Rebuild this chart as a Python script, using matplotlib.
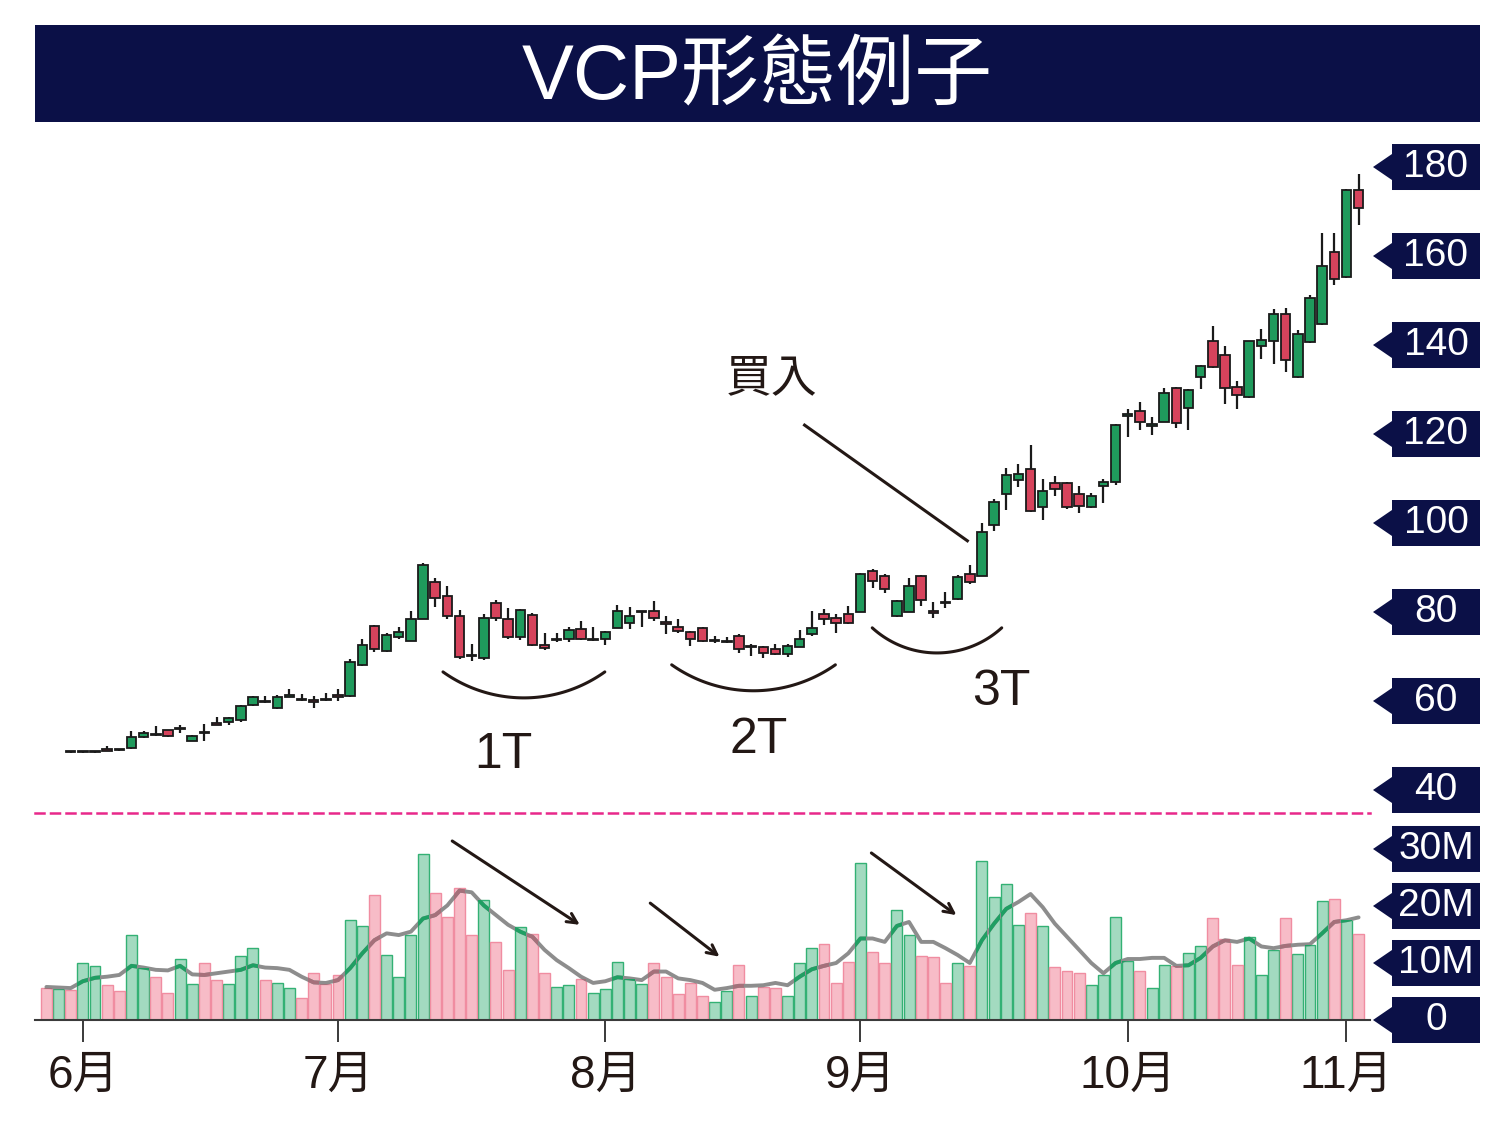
import numpy as np
import matplotlib
matplotlib.use('Agg')
import matplotlib.pyplot as plt
from matplotlib.patches import Rectangle, Polygon
from matplotlib.path import Path

plt.rcParams['font.family'] = ['Liberation Sans', 'Noto Sans CJK TC', 'DejaVu Sans']

W, H = 1500, 1138
NAVY = '#0b1047'
INK = '#231815'
nan = np.nan

# ---- 日K數據 ----
opens = [nan, nan, 48.6, 48.5, 48.5, 49.0, 49.2, 49.4, 51.9, 52.5,
         53.4, 53.6, 51.1, 53.0, 54.8, 55.2, 55.8, 59.0, 59.9, 58.4,
         61.0, 60.4, 60.3, 60.4, 61.3, 61.2, 68.2, 76.8, 71.2, 74.3,
         73.5, 78.4, 86.8, 83.5, 79.0, 70.3, 69.7, 82.1, 78.5, 74.4,
         79.3, 72.6, 73.6, 73.9, 76.2, 73.6, 74.0, 76.5, 77.6, 79.9,
         80.2, 77.7, 76.6, 75.5, 76.5, 73.4, 73.2, 74.6, 72.1, 72.2,
         71.6, 70.5, 72.2, 75.0, 79.5, 78.7, 79.5, 80.0, 89.3, 88.2,
         79.1, 80.0, 88.0, 80.1, 82.3, 82.9, 88.6, 88.1, 99.5, 106.6,
         109.6, 112.1, 103.6, 109.1, 108.9, 106.6, 103.6, 108.4, 109.2, 124.0,
         125.2, 121.9, 122.8, 130.3, 125.8, 132.7, 141.0, 137.7, 130.5, 128.4,
         139.7, 140.9, 147.0, 132.7, 140.7, 144.8, 160.8, 155.3, 174.8]
highs = [nan, nan, 48.7, 48.7, 48.7, 49.9, 49.3, 53.2, 53.2, 54.3,
         53.5, 54.7, 52.4, 54.9, 56.3, 56.3, 59.2, 61.2, 61.2, 61.4,
         62.8, 61.5, 61.1, 61.7, 62.6, 69.4, 73.9, 77.0, 75.3, 76.6,
         80.3, 91.1, 87.6, 85.8, 80.5, 72.7, 79.5, 82.6, 81.0, 80.6,
         79.8, 75.2, 75.3, 76.6, 77.9, 76.6, 75.8, 81.6, 81.1, 80.3,
         82.4, 79.1, 78.4, 75.7, 76.7, 74.5, 74.3, 75.0, 72.7, 72.3,
         72.7, 72.7, 76.0, 80.2, 80.6, 79.5, 81.4, 88.8, 89.6, 88.5,
         82.6, 87.7, 88.3, 82.2, 84.4, 88.4, 90.6, 100.0, 105.3, 112.4,
         113.2, 117.5, 109.8, 110.6, 109.2, 108.4, 106.7, 109.8, 122.3, 125.6,
         127.3, 123.9, 130.3, 130.6, 130.1, 135.4, 144.2, 139.8, 132.0, 141.0,
         143.6, 148.1, 148.3, 143.3, 151.3, 165.2, 165.2, 175.0, 178.4]
lows = [nan, nan, 48.4, 48.4, 48.4, 48.8, 48.8, 49.2, 51.6, 52.2,
        52.0, 52.9, 51.0, 50.9, 54.5, 54.7, 55.2, 58.9, 59.6, 58.1,
        60.9, 60.1, 58.5, 60.0, 60.0, 61.0, 67.9, 70.9, 70.9, 73.9,
        73.5, 78.4, 81.2, 78.4, 69.5, 69.1, 69.3, 78.0, 74.0, 73.6,
        72.3, 71.5, 73.2, 73.2, 73.7, 73.5, 72.6, 76.3, 76.1, 76.6,
        78.0, 75.0, 75.2, 72.4, 73.3, 73.0, 73.0, 70.7, 70.1, 69.7,
        70.4, 69.9, 72.1, 74.7, 77.0, 75.2, 77.4, 80.0, 85.3, 84.3,
        78.8, 80.0, 81.4, 78.7, 81.0, 82.6, 86.3, 88.1, 98.1, 102.9,
        108.0, 102.4, 100.6, 106.0, 103.2, 102.2, 103.4, 104.4, 108.5, 119.4,
        120.9, 119.7, 122.8, 121.4, 120.9, 130.1, 134.8, 126.8, 125.6, 128.2,
        136.9, 135.8, 133.9, 132.5, 140.5, 144.6, 153.5, 155.0, 167.0]
closes = [nan, nan, 48.5, 48.6, 48.6, 48.8, 48.9, 52.0, 52.8, 52.3,
          52.2, 53.9, 52.2, 52.7, 54.6, 56.1, 58.8, 61.0, 59.7, 61.0,
          61.2, 60.2, 59.7, 60.2, 60.9, 68.7, 72.5, 71.6, 74.8, 75.4,
          78.4, 90.6, 83.1, 79.0, 69.9, 70.0, 78.7, 78.7, 74.4, 80.4,
          72.5, 71.9, 73.8, 76.0, 73.9, 73.9, 75.5, 80.2, 79.2, 80.2,
          78.7, 77.4, 75.7, 73.9, 73.5, 73.6, 73.4, 71.6, 72.4, 70.7,
          70.5, 72.3, 73.9, 76.5, 78.4, 77.6, 77.6, 88.5, 87.0, 85.2,
          82.5, 85.9, 82.8, 79.8, 82.0, 87.8, 86.7, 98.0, 104.7, 110.7,
          111.1, 102.6, 107.3, 107.7, 103.6, 103.8, 106.1, 109.2, 122.0, 124.5,
          122.8, 122.2, 129.2, 122.4, 129.9, 135.2, 135.0, 130.3, 128.8, 140.8,
          141.2, 146.9, 136.7, 142.5, 150.5, 157.8, 154.8, 174.8, 170.9]

# 成交量 (百萬股) 與升跌
volume = [5.6, 5.4, 5.3, 10.0, 9.4, 6.1, 5.1, 14.9, 9.1, 7.6,
          4.8, 10.7, 6.3, 10.0, 7.0, 6.3, 11.2, 12.7, 7.0, 6.5,
          5.6, 3.9, 8.3, 6.3, 7.9, 17.5, 16.5, 21.9, 11.4, 7.6,
          14.9, 29.1, 22.2, 18.1, 23.1, 14.9, 21.0, 13.6, 8.8, 16.3,
          15.1, 8.2, 5.8, 6.1, 7.2, 4.8, 5.4, 10.2, 7.2, 6.3,
          10.0, 7.6, 4.5, 6.5, 4.2, 3.2, 5.0, 9.6, 4.2, 5.8,
          5.6, 4.2, 10.0, 12.7, 13.3, 6.5, 10.2, 27.5, 12.0, 10.0,
          19.3, 14.9, 11.2, 11.0, 6.5, 10.0, 9.4, 27.9, 21.6, 23.9,
          16.7, 18.7, 16.5, 9.3, 8.6, 8.3, 6.1, 7.9, 18.0, 10.4,
          8.6, 5.6, 9.6, 9.4, 11.8, 12.9, 17.9, 14.2, 9.6, 14.6,
          7.9, 12.3, 17.9, 11.6, 13.2, 20.9, 21.2, 17.5, 15.0]
vol_ma = [5.8, 5.7, 5.6, 6.8, 7.4, 7.6, 7.9, 9.5, 9.2, 8.8,
          8.7, 9.5, 8.0, 7.9, 8.2, 8.5, 8.8, 9.6, 9.2, 9.1,
          8.8, 7.6, 6.6, 6.5, 7.0, 9.1, 11.7, 14.0, 15.2, 14.9,
          15.5, 17.8, 18.4, 20.1, 22.7, 22.4, 20.1, 18.4, 16.7, 15.5,
          14.6, 12.3, 10.5, 9.1, 7.6, 6.5, 6.8, 7.5, 7.3, 7.0,
          8.5, 8.5, 7.3, 7.0, 6.5, 5.3, 5.6, 6.0, 6.0, 6.1,
          6.5, 6.1, 7.6, 8.9, 9.5, 10.0, 11.7, 14.3, 14.3, 13.7,
          16.5, 17.2, 13.7, 13.7, 12.6, 11.4, 10.0, 14.0, 16.9, 19.5,
          20.7, 22.1, 19.8, 16.9, 14.6, 12.3, 10.0, 8.2, 10.0, 10.7,
          10.7, 10.9, 10.9, 9.5, 9.6, 10.9, 12.9, 14.0, 13.7, 14.3,
          12.9, 12.6, 13.0, 13.2, 13.3, 15.2, 17.2, 17.5, 18.0]
up_day = 'PGPGGPPGGPPGGPPGGGPGGPPPPGGPGGGGPPPPGPPGPPGGPGGGGGPPPPPGGPGPPGGGPPPGPPGGPPPGPGGGGPGPPPGGGGPGGPGGPPPGGGPGGGPGP'

month_idx = [3, 24, 46, 67, 89, 107]
month_labels = ['6月', '7月', '8月', '9月', '10月', '11月']
price_ticks = [180, 160, 140, 120, 100, 80, 60, 40]
vol_ticks = [30, 20, 10, 0]
vol_tick_labels = ['30M', '20M', '10M', '0']

# 標註
notes = [('買入', 59.7, 132.4), ('1T', 37.6, 47.9), ('2T', 58.6, 51.2), ('3T', 78.6, 62.0)]
buy_line = ([62.4, 75.8], [122.0, 96.0])
arcs = [(39.3, 60.7, 139, 35.6), (58.2, 62.3, 142, 35.2), (73.3, 70.8, 96, 42.4)]
vol_arrows = [((33.4, 31.4), (43.9, 16.7)), ((49.7, 20.5), (55.4, 11.1)), ((67.9, 29.3), (74.9, 18.4))]


def fx(px):
    return px / W


def fy(py):
    return 1 - py / H


o = np.array(opens)
h = np.array(highs)
l = np.array(lows)
c = np.array(closes)
vol = np.array(volume)
up = np.array([ch == 'G' for ch in up_day])
x = np.arange(len(vol))

fig = plt.figure(figsize=(W / 100, H / 100), dpi=100)
fig.patch.set_facecolor('white')

# 標題
fig.add_artist(Rectangle((fx(35), fy(122)), fx(1480) - fx(35), (122 - 25) / H,
                         transform=fig.transFigure, color=NAVY, lw=0))
fig.text(fx(757), fy(79), 'VCP形態例子', color='white', fontsize=56,
         ha='center', va='center')

ax_p = fig.add_axes([fx(35), fy(813), fx(1370) - fx(35), (813 - 140) / H])
ax_v = fig.add_axes([fx(35), fy(1020), fx(1370) - fx(35), (1020 - 830) / H], sharex=ax_p)
ax_p.set_xlim(-0.94, 108.94)
ax_p.set_ylim(34.83, 186.07)
ax_v.set_ylim(0, 33.33)

for ax in (ax_p, ax_v):
    ax.set_facecolor('none')
    for s in ax.spines.values():
        s.set_visible(False)
    ax.set_yticks([])

# 價格圖下方虛線
ax_p.spines['bottom'].set_visible(True)
ax_p.spines['bottom'].set_color('#e8288a')
ax_p.spines['bottom'].set_linewidth(1.8)
ax_p.spines['bottom'].set_linestyle((0, (3.6, 2.6)))
ax_p.tick_params(bottom=False, labelbottom=False)

# 蠟燭
ok = ~np.isnan(o)
body_lo = np.minimum(o, c)
body_h = np.maximum(np.abs(c - o), 0.35)
cols = np.where(up, '#1f9a5c', '#d6435c')
ax_p.vlines(x[ok], l[ok], h[ok], color='#1a1a1a', lw=1.6, zorder=2)
ax_p.bar(x[ok], body_h[ok], bottom=body_lo[ok], width=0.78, color=cols[ok],
         edgecolor='#1a1a1a', lw=1.3, zorder=3)

# 成交量
g_bars = ax_v.bar(x[up], vol[up], width=0.9, color='#a3dac0', edgecolor='#33b174', lw=1.0, zorder=2)
p_bars = ax_v.bar(x[~up], vol[~up], width=0.9, color='#f7bcc7', edgecolor='#f08da1', lw=1.0, zorder=2)
ax_v.plot(x, vol_ma, color='#8d8d8d', lw=2.8, zorder=3, solid_capstyle='round')
for bars, col in ((g_bars, '#1f9f63'), (p_bars, '#a5707a')):
    paths = [b.get_path().transformed(b.get_patch_transform()) for b in bars]
    clip = Path.make_compound_path(*paths)
    ln, = ax_v.plot(x, vol_ma, color=col, lw=2.8, zorder=4)
    ln.set_clip_path(clip, ax_v.transData)

ax_v.spines['bottom'].set_visible(True)
ax_v.spines['bottom'].set_color('#3a3a3a')
ax_v.spines['bottom'].set_linewidth(1.5)
ax_v.set_xticks(month_idx)
ax_v.set_xticklabels(month_labels, fontsize=33, color=INK)
ax_v.tick_params(axis='x', direction='out', length=16, width=1.4, color='#3a3a3a', pad=8)

# 標註
for txt, xi, yp in notes:
    ax_p.text(xi, yp, txt, fontsize=36 if txt != '買入' else 33, color=INK,
              ha='center', va='center')
ax_p.plot(*buy_line, color=INK, lw=2.2, zorder=5)

p0 = ax_p.transData.transform((0, 0))
px_i = ax_p.transData.transform((1, 0))[0] - p0[0]
px_p = ax_p.transData.transform((0, 1))[1] - p0[1]
for ci, pb, r, a in arcs:
    t = np.radians(np.linspace(-a, a, 60))
    ax_p.plot(ci + r * np.sin(t) / px_i, pb + r * (1 - np.cos(t)) / px_p,
              color=INK, lw=2.2, solid_capstyle='round')

for start, end in vol_arrows:
    ax_v.annotate('', xy=end, xytext=start, annotation_clip=False,
                  arrowprops=dict(arrowstyle='->,head_length=0.7,head_width=0.35',
                                  color=INK, lw=2.2, shrinkA=0, shrinkB=0))


# 右側標籤
def tag(ax, v, label):
    yc = ax.transData.transform((0, v))[1]
    pts = [(1373, yc), (1392, yc + 13), (1392, yc + 23), (1480, yc + 23),
           (1480, yc - 23), (1392, yc - 23), (1392, yc - 13)]
    fig.add_artist(Polygon([(px / W, py / H) for px, py in pts], closed=True,
                           transform=fig.transFigure, color=NAVY, lw=0))
    fig.text(1436 / W, yc / H, label, color='white', fontsize=28, ha='center', va='center')


for v in price_ticks:
    tag(ax_p, v, str(v))
for v, lab in zip(vol_ticks, vol_tick_labels):
    tag(ax_v, v, lab)

fig.savefig('out.png', dpi=100, facecolor='white')
